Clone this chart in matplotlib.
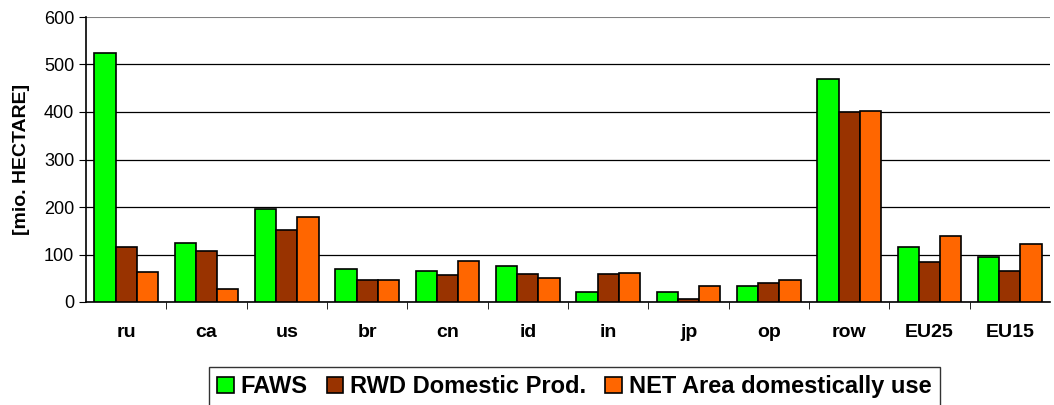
import numpy as np
import matplotlib
matplotlib.use("Agg")
import matplotlib.pyplot as plt

plt.rcParams['font.family'] = ['Liberation Sans', 'DejaVu Sans']

# data
regions = ["ru", "ca", "us", "br", "cn", "id", "in", "jp", "op", "row", "EU25", "EU15"]
faws = [524, 125, 196, 69, 66, 75, 22, 22, 34, 469, 116, 94]
rwd = [116, 107, 151, 46, 56, 60, 59, 6, 41, 400, 85, 66]
net_area = [63, 28, 179, 47, 87, 50, 62, 34, 47, 403, 139, 123]

series = {
    "FAWS": (faws, "#00ff00"),
    "RWD Domestic Prod.": (rwd, "#993300"),
    "NET Area domestically use": (net_area, "#ff6600"),
}

fig = plt.figure(figsize=(10.54, 4.05), dpi=100)
ax = fig.add_axes([86/1054, 1-302/405, (1050-86)/1054, (302-17)/405])

x = np.arange(len(regions))
w = 0.265
for i, (name, (vals, col)) in enumerate(series.items()):
    ax.bar(x + (i-1)*w, vals, width=w, color=col, edgecolor="black", linewidth=1.2, label=name, zorder=3)

ax.set_xlim(-0.5, len(regions)-0.5)
ax.set_ylim(0, 600)
ax.set_yticks(range(0, 601, 100))
ax.yaxis.grid(True, color="black", linewidth=0.9, zorder=0)
ax.set_axisbelow(True)
# top gridline looks grey in the original
ax.get_ygridlines()[-1].set_color("#808080")
ax.get_ygridlines()[-1].set_linewidth(1.5)

ax.set_xticks(x)
ax.set_xticklabels(regions, fontsize=14, fontweight="bold")
ax.set_xticks(np.arange(0.5, len(regions)-0.5, 1), minor=True)
ax.tick_params(axis="x", which="major", length=0, pad=16)
ax.tick_params(axis="x", which="minor", length=5, direction="out", color="black")
ax.tick_params(axis="y", labelsize=13, length=5, direction="out")

for s in ["top", "right"]:
    ax.spines[s].set_visible(False)
ax.spines["left"].set_linewidth(1.2)
ax.spines["bottom"].set_linewidth(1.2)

ax.set_ylabel("[mio. HECTARE]", fontsize=14, fontweight="bold", labelpad=10)

leg = fig.legend(loc="upper left", bbox_to_anchor=(209/1054, 1-367/405),
                 ncol=3, prop={"weight": "bold", "size": 17},
                 frameon=True, fancybox=False, edgecolor="black",
                 handlelength=0.7, handleheight=0.7, handletextpad=0.3,
                 columnspacing=0.8, borderpad=0.35, borderaxespad=0)
leg.get_frame().set_linewidth(1.0)

fig.savefig("out.png", dpi=100)
